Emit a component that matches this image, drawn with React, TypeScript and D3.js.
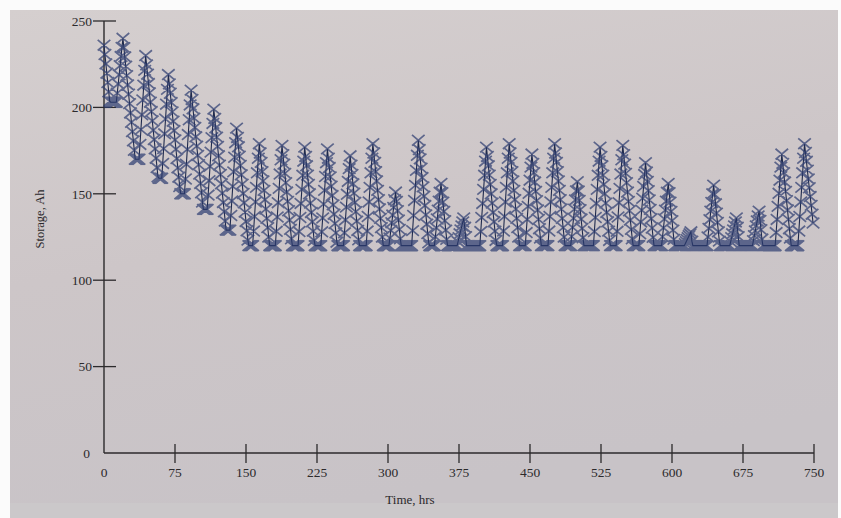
import React from "react";
import * as d3 from "d3";

// Daily peaks (hour, Ah)
const peakHours = [20, 44, 68, 92, 116, 140, 164, 188, 212, 236, 260, 284, 308, 332, 356, 380, 404, 428, 452, 476, 500, 524, 548, 572, 596, 620, 644, 668, 692, 716, 740];
const peakValues = [240, 230, 219, 210, 199, 188, 179, 178, 177, 176, 172, 179, 151, 181, 156, 136, 177, 179, 173, 179, 157, 177, 178, 168, 156, 128, 155, 136, 140, 173, 179];
// Daily minima and the hour charging starts
const troughValues = [203, 170, 159, 150, 141, 129, 120, 120, 120, 120, 120, 120, 120, 120, 120, 120, 120, 120, 120, 120, 120, 120, 120, 120, 120, 120, 120, 120, 120, 120, 120];
const chargeStartHours = [13, 37, 61, 85, 109, 133, 157, 181, 205, 229, 253, 277, 301, 325, 349, 373, 397, 421, 445, 469, 493, 517, 541, 565, 589, 613, 637, 661, 685, 709, 733];
const startPoint = [0, 236];
const endPoint = [750, 128];
const floorLevel = 120;
const dischargeRate = 5.4; // Ah per hour drawn at night

const yTickValues = [0, 50, 100, 150, 200, 250];
const xTickValues = [0, 75, 150, 225, 300, 375, 450, 525, 600, 675, 750];

const W = 841;
const H = 518;

function buildTurningPoints() {
  const pts: [number, number][] = [[startPoint[0], startPoint[1]]];
  let lastH = startPoint[0];
  let lastV = startPoint[1];
  for (let k = 0; k < peakHours.length; k++) {
    const tv = Math.max(troughValues[k], floorLevel);
    const reach = lastH + (lastV - tv) / dischargeRate;
    if (reach < chargeStartHours[k] - 0.01) pts.push([reach, tv]);
    pts.push([chargeStartHours[k], tv]);
    pts.push([peakHours[k], peakValues[k]]);
    lastH = peakHours[k];
    lastV = peakValues[k];
  }
  pts.push([endPoint[0], endPoint[1]]);
  return pts;
}

export default function App() {
  const x = d3.scaleLinear().domain([0, 750]).range([104, 814]);
  const y = d3.scaleLinear().domain([0, 250]).range([453, 21]);

  const turns = buildTurningPoints();
  const storage = d3
    .scaleLinear()
    .domain(turns.map((d) => d[0]))
    .range(turns.map((d) => d[1]))
    .clamp(true);

  const hours = d3.range(0, 750, 1);
  const samples = hours.map((h) => [h, storage(h)] as [number, number]);

  const line = d3
    .line<[number, number]>()
    .x((d) => x(d[0]))
    .y((d) => y(d[1]));

  const mw = 6.3;
  const mh = 5.3;
  const markerPath = samples
    .map((d) => {
      const cx = x(d[0]);
      const cy = y(d[1]);
      return `M${cx - mw},${cy - mh}L${cx + mw},${cy + mh}M${cx - mw},${cy + mh}L${cx + mw},${cy - mh}`;
    })
    .join("");

  const font = "'Liberation Serif', 'Times New Roman', serif";
  const ink = "#2c2a2c";

  return (
    <svg
      width={W}
      height={H}
      style={{ position: "fixed", left: 0, top: 0, background: "#fbfbfb" }}
    >
      <defs>
        <linearGradient id="paper" x1="0" y1="0" x2="0.3" y2="1">
          <stop offset="0" stopColor="#d5cfcf" />
          <stop offset="0.5" stopColor="#cdc6c8" />
          <stop offset="1" stopColor="#c8c3c7" />
        </linearGradient>
      </defs>
      <rect x={10} y={10} width={828} height={508} fill="url(#paper)" />
      <rect x={10} y={503} width={828} height={15} fill="#cbc8ca" />

      {/* axes */}
      <line x1={x(0)} y1={y(0)} x2={x(0)} y2={y(250)} stroke={ink} strokeWidth={1.4} />
      <line x1={x(0)} y1={y(0)} x2={x(750)} y2={y(0)} stroke={ink} strokeWidth={1.4} />

      {yTickValues.map((v) => (
        <g key={"y" + v}>
          {v !== 0 && (
            <line x1={93} x2={116} y1={y(v)} y2={y(v)} stroke={ink} strokeWidth={1.3} />
          )}
          <text
            x={v === 0 ? 90 : 92}
            y={y(v)}
            dy="0.35em"
            textAnchor="end"
            fontFamily={font}
            fontSize={13.5}
            fill={ink}
          >
            {v}
          </text>
        </g>
      ))}

      {xTickValues.map((v) => (
        <g key={"x" + v}>
          {v !== 0 && (
            <line x1={x(v)} x2={x(v)} y1={444} y2={463} stroke={ink} strokeWidth={1.3} />
          )}
          <text
            x={x(v)}
            y={477}
            textAnchor="middle"
            fontFamily={font}
            fontSize={13.5}
            fill={ink}
          >
            {v}
          </text>
        </g>
      ))}

      <text x={410} y={504} textAnchor="middle" fontFamily={font} fontSize={13} fill={ink}>
        Time, hrs
      </text>
      <text
        transform="translate(44,219) rotate(-90)"
        textAnchor="middle"
        fontFamily={font}
        fontSize={12.5}
        fill={ink}
      >
        Storage, Ah
      </text>

      {/* data */}
      <path d={line(samples) || ""} fill="none" stroke="#1f2a4d" strokeWidth={1.1} />
      <path d={markerPath} fill="none" stroke="#2c3c70" strokeWidth={1.7} strokeOpacity={0.7} />
    </svg>
  );
}
